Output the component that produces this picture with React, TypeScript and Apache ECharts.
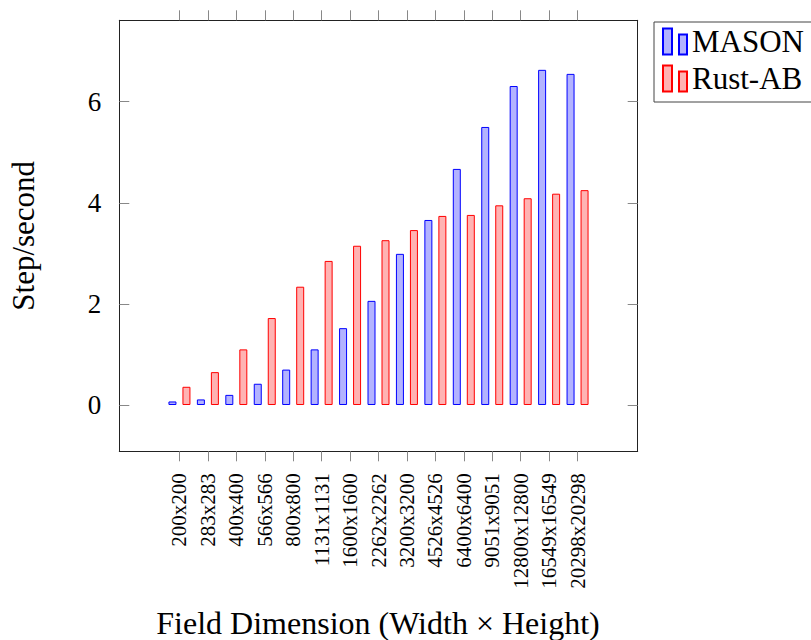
import React, { useEffect, useRef } from "react";
import * as echarts from "echarts";

const categories = [
  "200x200", "283x283", "400x400", "566x566", "800x800", "1131x1131",
  "1600x1600", "2262x2262", "3200x3200", "4526x4526", "6400x6400",
  "9051x9051", "12800x12800", "16549x16549", "20298x20298",
];
const masonValues = [0.07, 0.11, 0.2, 0.42, 0.7, 1.1, 1.52, 2.06, 2.99, 3.66, 4.67, 5.5, 6.31, 6.63, 6.55];
const rustValues = [0.36, 0.65, 1.1, 1.72, 2.34, 2.85, 3.15, 3.26, 3.46, 3.74, 3.76, 3.95, 4.09, 4.18, 4.25];
const yTickValues = [0, 2, 4, 6];
const seriesNames = ["MASON", "Rust-AB"];

const FONT = "'Liberation Serif', 'Times New Roman', serif";
const ICON = "path://M0,0 h9 v26 h-9 Z M16,6 h8 v20 h-8 Z";

export default function App() {
  const ref = useRef<HTMLDivElement>(null);
  useEffect(() => {
    if (!ref.current) return;
    const chart = echarts.init(ref.current, null, { renderer: "svg" });
    const idx = categories.map((_, i) => i);
    const xCommon = {
      type: "value",
      min: -2.115,
      max: 16.115,
      splitLine: { show: false },
      axisLine: { show: true, onZero: false, lineStyle: { color: "#222", width: 1 } },
    };
    const yCommon = {
      type: "value",
      min: -0.916,
      max: 7.61,
      splitLine: { show: false },
      axisLine: { show: true, onZero: false, lineStyle: { color: "#222", width: 1 } },
    };
    chart.setOption({
      animation: false,
      grid: {
        left: 119.3,
        right: 173.3,
        top: 20.3,
        bottom: 188.7,
        containLabel: false,
        outerBoundsMode: "none",
      },
      legend: {
        left: 654,
        top: 22,
        orient: "vertical",
        padding: [4, 40, 8, 8],
        itemGap: 6,
        itemWidth: 24,
        itemHeight: 26,
        borderColor: "#444",
        borderWidth: 1,
        textStyle: { fontFamily: FONT, fontSize: 31, color: "#000" },
        data: seriesNames.map((n) => ({ name: n, icon: ICON })),
      },
      xAxis: [
        {
          ...xCommon,
          position: "bottom",
          axisTick: {
            show: true,
            inside: false,
            length: 10,
            customValues: idx,
            lineStyle: { color: "#888" },
          },
          axisLabel: {
            show: true,
            customValues: idx,
            interval: 0,
            rotate: 90,
            margin: 22,
            fontFamily: FONT,
            fontSize: 21,
            color: "#000",
            formatter: (v: number) => categories[Math.round(v)] ?? "",
          },
        },
        {
          ...xCommon,
          position: "top",
          axisTick: {
            show: true,
            inside: false,
            length: 10,
            customValues: idx,
            lineStyle: { color: "#888" },
          },
          axisLabel: { show: false },
        },
      ],
      yAxis: [
        {
          ...yCommon,
          position: "left",
          axisTick: {
            show: true,
            inside: true,
            length: 10,
            customValues: yTickValues,
            lineStyle: { color: "#888" },
          },
          axisLabel: {
            show: true,
            customValues: yTickValues,
            margin: 18,
            fontFamily: FONT,
            fontSize: 27,
            color: "#000",
          },
        },
        {
          ...yCommon,
          position: "right",
          axisTick: {
            show: true,
            inside: true,
            length: 10,
            customValues: yTickValues,
            lineStyle: { color: "#888" },
          },
          axisLabel: { show: false },
        },
      ],
      series: [
        {
          name: seriesNames[0],
          type: "bar",
          xAxisIndex: 0,
          yAxisIndex: 0,
          barWidth: 8,
          barGap: "75%",
          itemStyle: { color: "#b3b3ff", borderColor: "#0000ff", borderWidth: 1 },
          data: masonValues.map((v, i) => [i, v]),
        },
        {
          name: seriesNames[1],
          type: "bar",
          xAxisIndex: 0,
          yAxisIndex: 0,
          barWidth: 8,
          barGap: "75%",
          itemStyle: { color: "#ffb3b3", borderColor: "#ff0000", borderWidth: 1 },
          data: rustValues.map((v, i) => [i, v]),
        },
      ],
      graphic: [
        {
          type: "text",
          x: 23,
          y: 235.8,
          rotation: Math.PI / 2,
          style: {
            text: "Step/second",
            font: `31px ${FONT}`,
            fill: "#000",
            align: "center",
            verticalAlign: "middle",
          },
        },
        {
          type: "text",
          x: 378,
          y: 623,
          style: {
            text: "Field Dimension (Width × Height)",
            font: `32px ${FONT}`,
            fill: "#000",
            align: "center",
            verticalAlign: "middle",
          },
        },
      ],
    });
    return () => chart.dispose();
  }, []);
  return (
    <div
      ref={ref}
      style={{ position: "fixed", left: 0, top: 0, width: 811, height: 640, background: "#fff" }}
    />
  );
}
